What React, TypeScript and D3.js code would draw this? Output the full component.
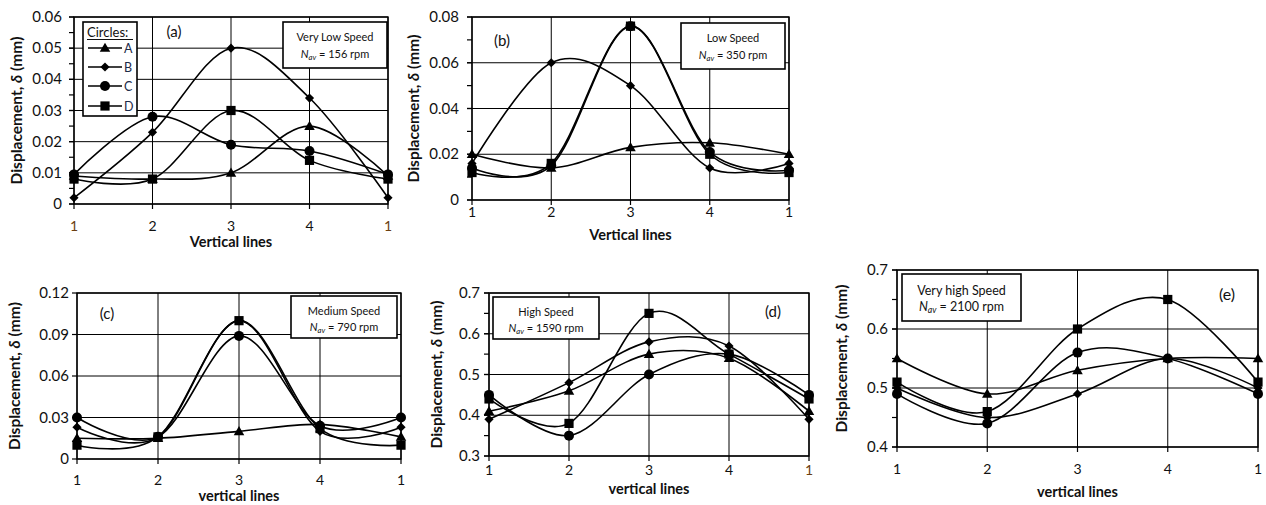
import React from "react";
import * as d3 from "d3";

// ---------- DATA ----------
const categories = ["1", "2", "3", "4", "1"];
const seriesNames = ["A", "B", "C", "D"];

// (a) Very low speed
const aA = [0.009, 0.008, 0.010, 0.025, 0.009];
const aB = [0.002, 0.023, 0.050, 0.034, 0.002];
const aC = [0.0095, 0.028, 0.019, 0.017, 0.0095];
const aD = [0.008, 0.008, 0.030, 0.014, 0.008];
const aTicks = [0, 0.01, 0.02, 0.03, 0.04, 0.05, 0.06];
const aTickLabels = ["0", "0.01", "0.02", "0.03", "0.04", "0.05", "0.06"];

// (b) Low speed
const bA = [0.020, 0.014, 0.023, 0.025, 0.020];
const bB = [0.016, 0.060, 0.050, 0.014, 0.016];
const bC = [0.014, 0.015, 0.076, 0.021, 0.013];
const bD = [0.012, 0.016, 0.076, 0.020, 0.012];
const bTicks = [0, 0.02, 0.04, 0.06, 0.08];
const bTickLabels = ["0", "0.02", "0.04", "0.06", "0.08"];

// (c) Medium speed
const cA = [0.015, 0.015, 0.020, 0.025, 0.016];
const cB = [0.023, 0.016, 0.100, 0.020, 0.023];
const cC = [0.030, 0.016, 0.089, 0.024, 0.030];
const cD = [0.010, 0.016, 0.100, 0.022, 0.010];
const cTicks = [0, 0.03, 0.06, 0.09, 0.12];
const cTickLabels = ["0", "0.03", "0.06", "0.09", "0.12"];

// (d) High speed
const dA = [0.41, 0.46, 0.55, 0.54, 0.41];
const dB = [0.39, 0.48, 0.58, 0.57, 0.39];
const dC = [0.45, 0.35, 0.50, 0.55, 0.45];
const dD = [0.44, 0.38, 0.65, 0.55, 0.44];
const dTicks = [0.3, 0.4, 0.5, 0.6, 0.7];
const dTickLabels = ["0.3", "0.4", "0.5", "0.6", "0.7"];

// (e) Very high speed
const eA = [0.55, 0.49, 0.53, 0.55, 0.55];
const eB = [0.50, 0.45, 0.49, 0.55, 0.50];
const eC = [0.49, 0.44, 0.56, 0.55, 0.49];
const eD = [0.51, 0.46, 0.60, 0.65, 0.51];
const eTicks = [0.4, 0.5, 0.6, 0.7];
const eTickLabels = ["0.4", "0.5", "0.6", "0.7"];

const FONT = "Lato, 'Open Sans', sans-serif";
const BROWN = "#6b3f12";

type PanelProps = {
  x0: number; x1: number; yTop: number; yBot: number;
  domain: [number, number];
  ticks: number[]; tickLabels: string[]; minorStep: number | null;
  series: number[][];
  tickGap: number;
  tickBase: number; titleBase: number; xTitle: string;
  yTitleX: number;
  brown: number[];
  label: string; labelX: number; labelY: number; labelSize: number;
  box: { x: number; y: number; w: number; h: number; l1: string; rpm: string; fs: number; b1: number; b2: number };
};

function Marker({ kind, x, y }: { kind: number; x: number; y: number }) {
  if (kind === 0) {
    const p = d3.symbol(d3.symbolTriangle, 48)();
    return <path d={p as string} transform={`translate(${x},${y + 0.8})`} fill="#000" />;
  }
  if (kind === 1) {
    const s = 4.6;
    return <path d={`M${x},${y - s}L${x + s},${y}L${x},${y + s}L${x - s},${y}Z`} fill="#000" />;
  }
  if (kind === 2) return <circle cx={x} cy={y} r={5} fill="#000" />;
  return <rect x={x - 4.6} y={y - 4.6} width={9.2} height={9.2} fill="#000" />;
}

function Panel(p: PanelProps) {
  const x = d3.scalePoint<number>().domain(categories.map((_, i) => i)).range([p.x0, p.x1]);
  const y = d3.scaleLinear().domain(p.domain).range([p.yBot, p.yTop]);
  const line = d3
    .line<number>()
    .x((_, i) => x(i) as number)
    .y((v) => y(v))
    .curve(d3.curveCardinal.tension(0));
  const minors: number[] = [];
  if (p.minorStep) {
    for (let v = p.domain[0]; v <= p.domain[1] + 1e-9; v += p.minorStep) minors.push(v);
  }
  const yMid = (p.yTop + p.yBot) / 2;
  return (
    <g>
      {p.ticks.map((t, i) => (
        <line key={"h" + i} x1={p.x0} x2={p.x1} y1={y(t)} y2={y(t)} stroke="#000" strokeWidth={1} />
      ))}
      {categories.map((_, i) => (
        <line key={"v" + i} x1={x(i)} x2={x(i)} y1={p.yTop} y2={p.yBot} stroke="#000" strokeWidth={1} />
      ))}
      <rect x={p.x0} y={p.yTop} width={p.x1 - p.x0} height={p.yBot - p.yTop} fill="none" stroke="#000" strokeWidth={1.4} />
      {minors.map((t, i) => (
        <line key={"m" + i} x1={p.x0 - 5} x2={p.x0} y1={y(t)} y2={y(t)} stroke="#000" strokeWidth={1.2} />
      ))}
      {p.ticks.map((t, i) => (
        <line key={"t" + i} x1={p.x0 - 5} x2={p.x0} y1={y(t)} y2={y(t)} stroke="#000" strokeWidth={1.2} />
      ))}
      {p.ticks.map((t, i) => (
        <text key={"tl" + i} x={p.x0 - p.tickGap} y={y(t) + 5} textAnchor="end" fontSize={15} fontFamily={FONT} fill="#111">
          {p.tickLabels[i]}
        </text>
      ))}
      {categories.map((c, i) => (
        <g key={"x" + i}>
          <line x1={x(i)} x2={x(i)} y1={p.yBot} y2={p.yBot + 5} stroke="#000" strokeWidth={1.2} />
          <text x={x(i)} y={p.tickBase} textAnchor="middle" fontSize={14} fontFamily={FONT} fill={p.brown.includes(i) ? BROWN : "#111"}>
            {c}
          </text>
        </g>
      ))}
      <text x={(p.x0 + p.x1) / 2} y={p.titleBase} textAnchor="middle" fontSize={14.5} fontWeight="bold" fontFamily={FONT} fill="#111">
        {p.xTitle}
      </text>
      <text
        transform={`translate(${p.yTitleX},${yMid}) rotate(-90)`}
        textAnchor="middle"
        fontSize={15.5}
        fontWeight="bold"
        fontFamily={FONT}
        fill="#111"
      >
        Displacement, <tspan fontStyle="italic">δ</tspan> (mm)
      </text>
      {p.series.map((s, si) => (
        <path key={"l" + si} d={line(s) as string} fill="none" stroke="#000" strokeWidth={1.6} />
      ))}
      {p.series.map((s, si) =>
        s.map((v, i) => <Marker key={"mk" + si + "_" + i} kind={si} x={x(i) as number} y={y(v)} />)
      )}
      <text x={p.labelX} y={p.labelY} textAnchor="middle" fontSize={p.labelSize} fontFamily={FONT} fill="#111">
        {p.label}
      </text>
      <rect x={p.box.x} y={p.box.y} width={p.box.w} height={p.box.h} fill="#fff" stroke="#000" strokeWidth={1.6} />
      <text x={p.box.x + p.box.w / 2} y={p.box.y + p.box.b1} textAnchor="middle" fontSize={p.box.fs} fontFamily={FONT} fill="#111">
        {p.box.l1}
      </text>
      <text x={p.box.x + p.box.w / 2} y={p.box.y + p.box.b2} textAnchor="middle" fontSize={p.box.fs} fontFamily={FONT} fill="#111">
        <tspan fontStyle="italic">N</tspan>
        <tspan fontStyle="italic" fontSize={p.box.fs * 0.7} dy={2}>av</tspan>
        <tspan dy={-2}>{" = " + p.box.rpm + " rpm"}</tspan>
      </text>
    </g>
  );
}

function Legend() {
  const bx = 83, by = 22, bw = 54, bh = 94;
  const rows = [48, 67, 86, 106];
  return (
    <g>
      <rect x={bx} y={by} width={bw} height={bh} fill="#fff" stroke="#000" strokeWidth={1.6} />
      <text x={87} y={37} fontSize={13} fontFamily={FONT} fill="#111">
        Circles:
      </text>
      <line x1={87} x2={133} y1={39.5} y2={39.5} stroke="#111" strokeWidth={1} />
      {seriesNames.map((n, i) => (
        <g key={n}>
          <line x1={88} x2={122} y1={rows[i]} y2={rows[i]} stroke="#000" strokeWidth={1.6} />
          <Marker kind={i} x={105} y={rows[i]} />
          <text x={124} y={rows[i] + 4.5} fontSize={12.5} fontFamily={FONT} fill="#1c2a48">
            {n}
          </text>
        </g>
      ))}
    </g>
  );
}

export default function App() {
  return (
    <svg width={1266} height={505} style={{ position: "absolute", left: 0, top: 0, background: "#fff" }}>
      <rect width={1266} height={505} fill="#fff" />
      <Panel
        x0={74} x1={388} yTop={17} yBot={204} domain={[0, 0.06]}
        ticks={aTicks} tickLabels={aTickLabels} minorStep={0.005}
        series={[aA, aB, aC, aD]} tickGap={12}
        tickBase={231} titleBase={247} xTitle="Vertical lines" yTitleX={22} brown={[0, 4]}
        label="(a)" labelX={174} labelY={37} labelSize={15}
        box={{ x: 283, y: 22, w: 104, h: 46, l1: "Very Low Speed", rpm: "156", fs: 11, b1: 19, b2: 36 }}
      />
      <Legend />
      <Panel
        x0={472} x1={789} yTop={17} yBot={200} domain={[0, 0.08]}
        ticks={bTicks} tickLabels={bTickLabels} minorStep={0.01}
        series={[bA, bB, bC, bD]} tickGap={13}
        tickBase={217} titleBase={240} xTitle="Vertical lines" yTitleX={419} brown={[]}
        label="(b)" labelX={502} labelY={46} labelSize={15}
        box={{ x: 681, y: 23, w: 104, h: 46, l1: "Low Speed", rpm: "350", fs: 11, b1: 19, b2: 36 }}
      />
      <Panel
        x0={77} x1={401} yTop={293} yBot={459} domain={[0, 0.12]}
        ticks={cTicks} tickLabels={cTickLabels} minorStep={null}
        series={[cA, cB, cC, cD]} tickGap={8}
        tickBase={485} titleBase={501} xTitle="vertical lines" yTitleX={20} brown={[]}
        label="(c)" labelX={107} labelY={319} labelSize={15}
        box={{ x: 291, y: 296, w: 106, h: 42, l1: "Medium Speed", rpm: "790", fs: 11, b1: 19, b2: 35 }}
      />
      <Panel
        x0={489} x1={809} yTop={293} yBot={456} domain={[0.3, 0.7]}
        ticks={dTicks} tickLabels={dTickLabels} minorStep={0.05}
        series={[dA, dB, dC, dD]} tickGap={9}
        tickBase={475} titleBase={494} xTitle="vertical lines" yTitleX={442} brown={[4]}
        label="(d)" labelX={773} labelY={317} labelSize={15}
        box={{ x: 493, y: 297, w: 106, h: 42, l1: "High Speed", rpm: "1590", fs: 11, b1: 19, b2: 35 }}
      />
      <Panel
        x0={897} x1={1258} yTop={270} yBot={447} domain={[0.4, 0.7]}
        ticks={eTicks} tickLabels={eTickLabels} minorStep={0.05}
        series={[eA, eB, eC, eD]} tickGap={9}
        tickBase={474} titleBase={497} xTitle="vertical lines" yTitleX={847} brown={[]}
        label="(e)" labelX={1227} labelY={300} labelSize={16}
        box={{ x: 902, y: 274, w: 119, h: 47, l1: "Very high Speed", rpm: "2100", fs: 12.5, b1: 21, b2: 37 }}
      />
    </svg>
  );
}
